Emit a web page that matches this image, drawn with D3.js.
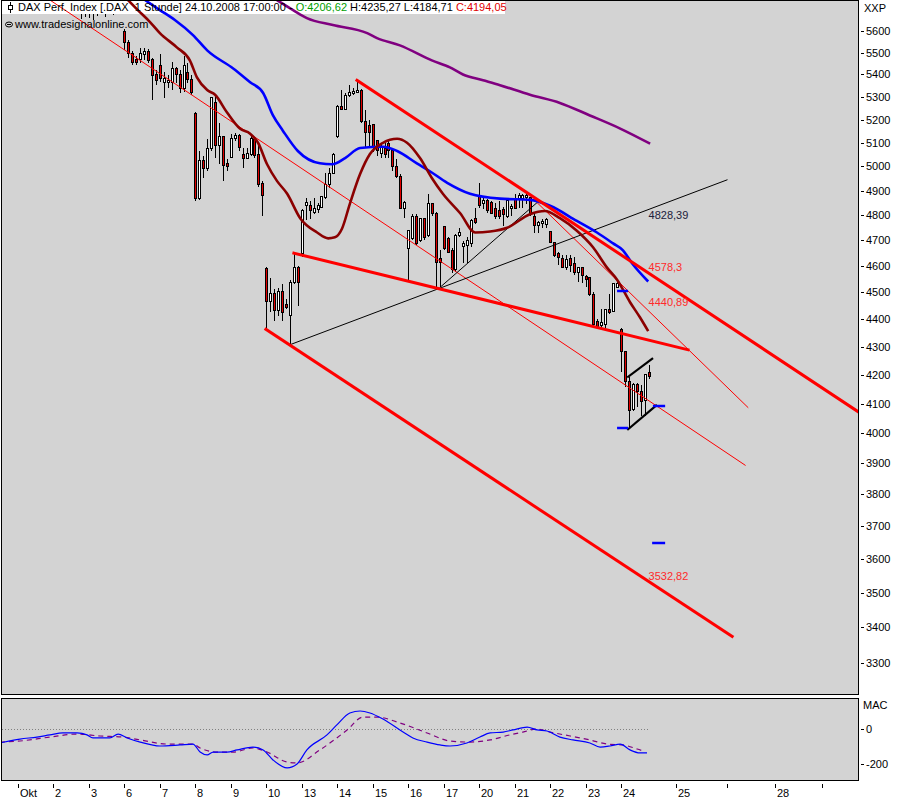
<!DOCTYPE html>
<html><head><meta charset="utf-8">
<script src="https://cdn.jsdelivr.net/npm/d3@7"></script>
<style>
body{margin:0;background:#fff}
svg{display:block}
text{font-family:"Liberation Sans",Arial,sans-serif;font-size:11px}
</style></head>
<body><svg id="c" width="900" height="800"></svg>
<script>
// ---------- DATA ----------
const dayLabels = ["Okt","2","3","6","7","8","9","10","13","14","15","16","17","20","21","22","23","24"];
const barsPerDay = 9;
const futureTickIdx = [167, 180, 192, 204];
const futureTickLabels = ["25", "", "28", ""];
const priceTicks = [5600,5500,5400,5300,5200,5100,5000,4900,4800,4700,4600,4500,4400,4300,4200,4100,4000,3900,3800,3700,3600,3500,3400,3300];
const macdTicks = [0, -200];
const macdTickLabels = ["0", "-200"];
const firstBar = 16;
const open = [5720,5700, 5725,5705,5720,5735,5700,5730,5745,5715,5740,
 5600,5548,5495,5468,5468,5491,5505,5468,5400,
 5441,5365,5365,5365,5427,5400,5339,5409,5378,
 5227,4867,5026,4992,5074,5273,5087,5126,5013,
 5039,5117,5130,5052,5035,5052,5113,5052,4928,
 4589,4467,4496,4433,4504,4456,4415,4537,4593,
 4650,4838,4838,4812,4825,4833,4871,4924,4972,
 5126,5259,5245,5304,5313,5317,5330,5191,5174,
 5178,5109,5056,5074,5096,5065,5000,4960,4829,
 4669,4708,4796,4700,4785,4719,4846,4808,4631,
 4754,4708,4661,4585,4719,4677,4681,4688,4785,
 4879,4846,4858,4850,4829,4817,4825,4796,4829,
 4867,4867,4867,4871,4871,4796,4758,4765,4762,
 4735,4692,4650,4631,4596,4631,4611,4574,4593,
 4559,4556,4493,4393,4378,4381,4437,4430,4519,
 4363,4283,4176,4080,4166,4141,4110,4206.62];
const high = [5745,5740, 5750,5740,5750,5760,5745,5760,5770,5760,5780,
 5610,5557,5509,5486,5519,5519,5514,5477,5418,
 5495,5409,5396,5455,5432,5418,5486,5450,5396,
 5235,5065,5043,5117,5300,5309,5183,5130,5030,
 5139,5143,5139,5078,5078,5139,5122,5096,4940,
 4595,4556,4511,4515,4530,4474,4545,4650,4600,
 4825,4871,4858,4871,4850,4879,4972,4992,5056,
 5262,5331,5317,5352,5339,5374,5334,5241,5196,
 5182,5112,5100,5100,5109,5070,5030,4968,4858,
 4738,4804,4804,4788,4788,4887,4850,4812,4661,
 4758,4712,4669,4727,4750,4696,4712,4785,4829,
 4933,4871,4867,4858,4850,4858,4833,4867,4846,
 4887,4891,4887,4887,4875,4804,4777,4785,4788,
 4738,4695,4654,4642,4642,4642,4635,4596,4596,
 4567,4559,4500,4400,4437,4437,4493,4537,4548,
 4366,4286,4193,4172,4172,4166,4203,4235.27];
const low = [5655,5665, 5660,5650,5670,5680,5665,5690,5675,5690,5700,
 5510,5477,5441,5441,5450,5464,5450,5286,5352,
 5365,5295,5339,5330,5361,5317,5322,5361,5309,
 4858,4862,4952,4980,5065,5035,5009,4940,4980,
 5035,5109,5065,4992,5030,5043,5035,4916,4796,
 4363,4426,4393,4411,4393,4437,4307,4533,4448,
 4635,4781,4785,4804,4808,4829,4867,4912,4968,
 5122,5241,5241,5300,5309,5317,5187,5078,5078,
 5061,5043,5035,5035,5035,4980,4952,4825,4788,
 4541,4700,4681,4692,4700,4712,4796,4522,4519,
 4661,4650,4574,4578,4715,4611,4611,4673,4765,
 4829,4825,4808,4804,4785,4785,4758,4788,4796,
 4825,4829,4829,4846,4796,4731,4731,4750,4750,
 4688,4635,4604,4593,4585,4578,4567,4541,4537,
 4519,4485,4374,4370,4363,4363,4419,4426,4515,
 4211,4159,4013,4073,4090,4057,4057,4184.71];
const close = [5700,5725, 5705,5720,5735,5700,5730,5745,5715,5740,5760,
 5548,5495,5455,5455,5495,5505,5464,5396,5374,
 5383,5383,5374,5427,5400,5339,5441,5378,5317,
 4867,5026,4992,5074,5295,5087,5126,5004,5000,
 5117,5130,5078,5035,5056,5117,5048,4924,4879,
 4467,4496,4433,4504,4426,4444,4537,4593,4537,
 4821,4850,4817,4829,4838,4875,4924,4972,5052,
 5259,5245,5304,5317,5322,5330,5191,5143,5143,
 5078,5065,5078,5052,5065,5000,4960,4829,4850,
 4738,4796,4688,4785,4712,4846,4808,4615,4615,
 4669,4654,4585,4719,4731,4688,4700,4777,4769,
 4838,4858,4817,4808,4796,4796,4804,4858,4835,
 4829,4879,4879,4879,4804,4758,4769,4773,4781,
 4692,4642,4635,4596,4627,4604,4574,4593,4563,
 4548,4493,4381,4374,4389,4437,4426,4533,4533,
 4283,4176,4077,4166,4141,4107,4200,4194.05];

// moving averages: [bar index, price]
const maShort = [[27.9,5747],[30.4,5699],[33.5,5642],[36.0,5590],[40.3,5524],[43.6,5464],[45.4,5387],[48.0,5330],[50.0,5309],[53.0,5232],[56.3,5161],[58.9,5139],[60.9,5100],[63.2,5009],[65.7,4940],[68.3,4887],[71.6,4788],[75.9,4731],[78.7,4708],[80.4,4712],[82.2,4746],[84.2,4846],[86.8,4968],[89.3,5052],[92.6,5100],[96.2,5117],[98.7,5100],[102.0,5035],[105.0,4952],[107.8,4887],[112.2,4808],[116.0,4731],[119.8,4735],[124.1,4750],[129.9,4804],[133.7,4817],[137.5,4788],[141.8,4738],[145.9,4673],[149.5,4593],[152.0,4548],[155.3,4463],[157.8,4407],[159.9,4356]];
const maMid = [[32.2,5747],[36.0,5699],[39.8,5652],[44.4,5581],[48.0,5510],[54.6,5427],[58.9,5365],[62.2,5317],[64.7,5218],[67.2,5152],[71.0,5065],[76.6,5013],[79.7,5009],[83.0,5035],[86.8,5078],[92.6,5083],[96.2,5065],[101.2,5013],[104.5,4980],[108.9,4932],[114.7,4887],[122.3,4867],[129.9,4862],[135.0,4838],[141.8,4777],[146.9,4731],[151.0,4688],[153.5,4661],[155.8,4611],[159.9,4541]];
const maLong = [[65.7,5747],[69.8,5699],[73.3,5661],[79.9,5628],[88.6,5590],[91.1,5567],[96.9,5533],[105.0,5464],[109.6,5432],[112.9,5400],[118.0,5374],[122.3,5352],[129.9,5309],[137.5,5273],[145.1,5218],[152.8,5161],[160.4,5096]];

// drawn trend lines: [startIdx, startPrice, endIdx, endPrice]
const thickRedLines = [[86.0,5374,213.1,4073],[70.0,4650,170.0,4289],[62.9,4363,181.2,3374]];
const thinRedLines = [[8.1,5747,184.5,3894],[131.7,4851,185.2,4087]];
const thinBlackLines = [[69.0,4307,179.9,4944],[107.1,4519,131.7,4851]];
const flagLines = [[154.8,4193,160.9,4257],[154.8,4013,161.9,4093]];
const blueMarks = [[152.0,4504,154.8],[152.0,4017,154.8],[161.1,4093,164.2],[160.9,3648,164.2]];
const lineLabels = ["4828,39","4578,3","4440,89","3532,82"];
const lineLabelValues = [4828.39,4578.3,4440.89,3532.82];
const lineLabelColors = ["#20203a","#ff2a2a","#ff2a2a","#ff2a2a"];
const lineLabelDy = [11,-1,-2,-1.5];

// MACD [bar index, value]
const macd = [[-4.6,-81],[0.5,-59],[4.8,-48],[8.1,-36],[11.4,-25],[15.0,-25],[17.5,-36],[19.0,-53],[23.3,-53],[25.4,-31],[27.7,-53],[31.0,-76],[36.0,-98],[41.1,-92],[44.4,-87],[46.2,-132],[48.0,-148],[49.5,-132],[53.0,-132],[55.6,-120],[59.6,-104],[62.2,-120],[64.7,-176],[68.3,-221],[70.8,-199],[73.3,-120],[78.4,-36],[80.9,20],[84.2,87],[86.8,98],[89.3,87],[92.6,53],[97.7,-20],[100.2,-53],[103.8,-76],[107.1,-92],[109.6,-98],[113.9,-81],[117.2,-48],[119.8,-25],[123.1,-20],[125.6,-8],[129.2,8],[131.7,-8],[134.2,-14],[137.5,-48],[140.8,-64],[145.1,-81],[147.7,-104],[150.2,-98],[152.8,-87],[155.3,-120],[157.8,-137],[159.6,-137]];
const signal = [[-4.6,-76],[0.5,-70],[8.1,-48],[15.0,-31],[20.8,-42],[26.6,-48],[31.0,-64],[37.8,-87],[44.4,-87],[46.2,-109],[50.5,-132],[54.6,-132],[59.6,-109],[63.2,-132],[68.3,-188],[70.8,-193],[76.6,-120],[83.5,-8],[87.5,64],[91.1,64],[96.9,31],[103.8,-25],[109.6,-70],[114.7,-76],[119.8,-64],[124.8,-36],[128.1,-20],[131.7,-3],[135.0,-20],[140.1,-42],[145.1,-64],[149.5,-87],[153.5,-92],[157.1,-115],[158.6,-126]];

// ---------- SCALES ----------
const svg = d3.select("#c");
const x = d3.scaleLinear().domain([0, 153]).range([18, 621]);
const y = d3.scaleLog().domain([3300, 5600]).range([663, 31]);
const ym = d3.scaleLinear().domain([-200, 0]).range([764.2, 728.5]);
const P = {x0:1.5, x1:858.5, y0:0.5, y1:694.5};
const M = {y0:698.5, y1:780.5};

// panels
svg.append("rect").attr("x",P.x0).attr("y",P.y0).attr("width",P.x1-P.x0).attr("height",P.y1-P.y0)
  .attr("fill","#d3d3d3").attr("stroke","#000").attr("shape-rendering","crispEdges");
svg.append("rect").attr("x",P.x0).attr("y",M.y0).attr("width",P.x1-P.x0).attr("height",M.y1-M.y0)
  .attr("fill","#d3d3d3").attr("stroke","#000").attr("shape-rendering","crispEdges");
const defs = svg.append("defs");
defs.append("clipPath").attr("id","cp").append("rect").attr("x",2).attr("y",1).attr("width",856).attr("height",693);
defs.append("clipPath").attr("id","cm").append("rect").attr("x",2).attr("y",699).attr("width",856).attr("height",81);

const g = svg.append("g").attr("clip-path","url(#cp)");

// candles
const bars = open.map((o,k)=>({i:firstBar+k,o,h:high[k],l:low[k],c:close[k]}));
const cg = g.append("g").attr("shape-rendering","crispEdges");
cg.selectAll("line").data(bars).join("line")
  .attr("x1",d=>Math.round(x(d.i))+0.5).attr("x2",d=>Math.round(x(d.i))+0.5)
  .attr("y1",d=>y(d.h)).attr("y2",d=>y(d.l)).attr("stroke","#000");
cg.selectAll("rect").data(bars).join("rect")
  .attr("x",d=>Math.round(x(d.i))-0.5).attr("width",2)
  .attr("y",d=>y(Math.max(d.o,d.c))).attr("height",d=>Math.max(1,y(Math.min(d.o,d.c))-y(Math.max(d.o,d.c))))
  .attr("fill",d=>d.c<d.o?"#e00000":"#ffffff").attr("stroke","#000");

// header strip
g.append("rect").attr("x",2).attr("y",1).attr("width",503).attr("height",13).attr("fill","#ffffff");

const line = d3.line().x(d=>x(d[0])).y(d=>y(d[1]));
const seg = (arr, color, w, dash) => g.append("g").selectAll("line").data(arr).join("line")
  .attr("x1",d=>x(d[0])).attr("y1",d=>y(d[1])).attr("x2",d=>x(d[2])).attr("y2",d=>y(d[3]))
  .attr("stroke",color).attr("stroke-width",w).attr("stroke-linecap","square");

seg(thinRedLines,"#ff0000",1);
seg(thinBlackLines,"#000000",1);
g.append("path").datum(maLong).attr("d",line.curve(d3.curveMonotoneX)).attr("fill","none").attr("stroke","#800080").attr("stroke-width",2.6);
g.append("path").datum(maMid).attr("d",line.curve(d3.curveMonotoneX)).attr("fill","none").attr("stroke","#0000ff").attr("stroke-width",2.6);
g.append("path").datum(maShort).attr("d",line.curve(d3.curveMonotoneX)).attr("fill","none").attr("stroke","#8b0000").attr("stroke-width",2.6);
seg(thickRedLines,"#ff0000",3);
seg(flagLines,"#000000",2.2);
g.append("g").selectAll("line").data(blueMarks).join("line")
  .attr("x1",d=>x(d[0])).attr("x2",d=>x(d[2])).attr("y1",d=>Math.round(y(d[1]))).attr("y2",d=>Math.round(y(d[1])))
  .attr("stroke","#0000ff").attr("stroke-width",2.5);

// value labels on lines
g.append("g").selectAll("text").data(lineLabels).join("text")
  .attr("x",x(160)).attr("y",(d,k)=>y(lineLabelValues[k])+lineLabelDy[k])
  .attr("fill",(d,k)=>lineLabelColors[k]).text(d=>d);

// header text
const ht = svg.append("text").attr("x",18).attr("y",11);
ht.append("tspan").attr("fill","#000").text("DAX Perf. Index [.DAX  1 Stunde] 24.10.2008 17:00:00 - ");
ht.append("tspan").attr("fill","#00a000").text("O:4206,62");
ht.append("tspan").attr("fill","#000").text(" H:4235,27 L:4184,71 ");
ht.append("tspan").attr("fill","#e00000").text("C:4194,05");
ht.attr("xml:space","preserve").style("white-space","pre");
// header icon
svg.append("line").attr("x1",10.5).attr("x2",10.5).attr("y1",2).attr("y2",13).attr("stroke","#000").attr("shape-rendering","crispEdges");
svg.append("rect").attr("x",8.5).attr("y",5.5).attr("width",4).attr("height",4).attr("fill","#fff").attr("stroke","#000").attr("shape-rendering","crispEdges");
svg.append("ellipse").attr("cx",9).attr("cy",24.5).attr("rx",3.5).attr("ry",2.5).attr("fill","none").attr("stroke","#000").attr("stroke-width",1);
svg.append("line").attr("x1",7).attr("x2",11).attr("y1",24.5).attr("y2",24.5).attr("stroke","#000");
svg.append("text").attr("x",15).attr("y",28).attr("fill","#000").text("www.tradesignalonline.com");

// price axis
const pa = svg.append("g");
pa.selectAll("line").data(priceTicks).join("line")
  .attr("x1",861).attr("x2",864).attr("y1",d=>Math.round(y(d))+0.5).attr("y2",d=>Math.round(y(d))+0.5)
  .attr("stroke","#000").attr("shape-rendering","crispEdges");
pa.selectAll("text").data(priceTicks).join("text")
  .attr("x",866).attr("y",d=>y(d)+4).attr("fill","#000").text(d=>d);
svg.append("text").attr("x",864).attr("y",12).attr("fill","#000").text("XXP");

// MACD panel
const gm = svg.append("g").attr("clip-path","url(#cm)");
gm.append("line").attr("x1",2).attr("x2",x(160)).attr("y1",Math.round(ym(0))+0.5).attr("y2",Math.round(ym(0))+0.5)
  .attr("stroke","#808080").attr("stroke-dasharray","1,2");
const lm = d3.line().x(d=>x(d[0])).y(d=>ym(d[1])).curve(d3.curveMonotoneX);
gm.append("path").datum(signal).attr("d",lm).attr("fill","none").attr("stroke","#800080").attr("stroke-width",1.2).attr("stroke-dasharray","5,4");
gm.append("path").datum(macd).attr("d",lm).attr("fill","none").attr("stroke","#0000ff").attr("stroke-width",1.2);
const ma = svg.append("g");
ma.selectAll("line").data(macdTicks).join("line")
  .attr("x1",861).attr("x2",864).attr("y1",d=>Math.round(ym(d))+0.5).attr("y2",d=>Math.round(ym(d))+0.5)
  .attr("stroke","#000").attr("shape-rendering","crispEdges");
ma.selectAll("text").data(macdTickLabels).join("text")
  .attr("x",866).attr("y",(d,k)=>ym(macdTicks[k])+4).attr("fill","#000").text(d=>d);
svg.append("text").attr("x",863).attr("y",709).attr("fill","#000").text("MAC");

// time axis
const tickData = dayLabels.map((l,d)=>({i:d*barsPerDay,l})).concat(futureTickIdx.map((i,k)=>({i,l:futureTickLabels[k]})));
const ta = svg.append("g");
ta.selectAll("line").data(tickData).join("line")
  .attr("x1",d=>Math.round(x(d.i))+0.5).attr("x2",d=>Math.round(x(d.i))+0.5).attr("y1",784).attr("y2",788)
  .attr("stroke","#000").attr("shape-rendering","crispEdges");
ta.selectAll("text").data(tickData).join("text")
  .attr("x",d=>Math.round(x(d.i))+2).attr("y",797).attr("fill","#000").text(d=>d.l);
</script>
</body></html>
